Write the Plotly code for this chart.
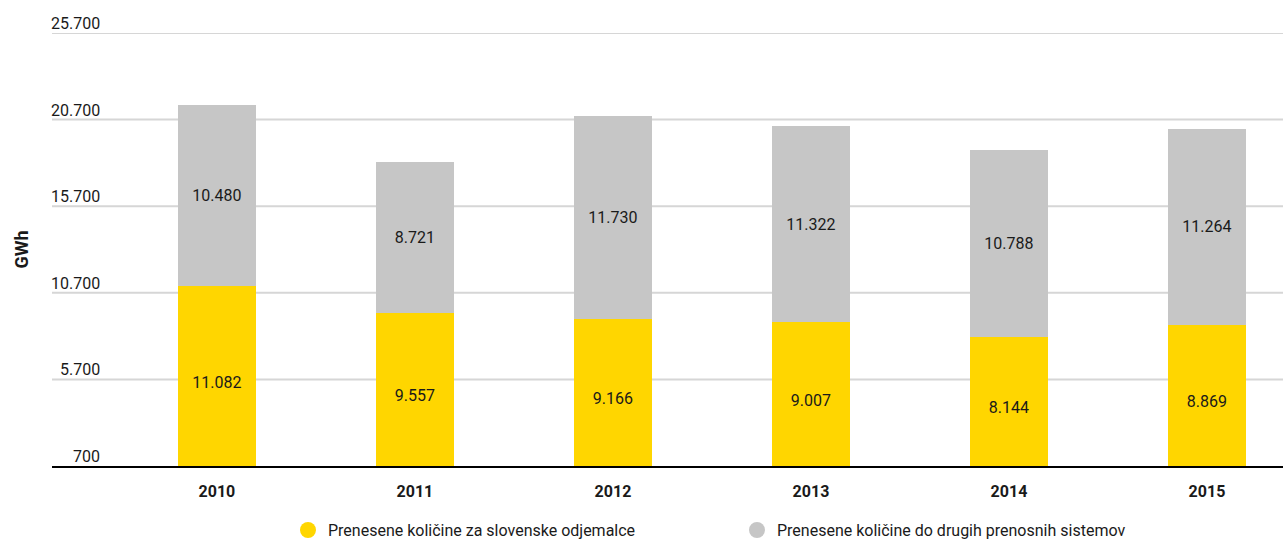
import plotly.graph_objects as go

# data
years = ["2010", "2011", "2012", "2013", "2014", "2015"]
slo_odjemalci = [11082, 9557, 9166, 9007, 8144, 8869]
drugi_sistemi = [10480, 8721, 11730, 11322, 10788, 11264]
y_ticks = [700, 5700, 10700, 15700, 20700, 25700]

names = ["Prenesene količine za slovenske odjemalce",
         "Prenesene količine do drugih prenosnih sistemov"]
colors = ["#FFD600", "#C6C6C6"]

FONT = "Roboto, Liberation Sans Narrow, sans-serif"

fig = go.Figure()

x_idx = list(range(len(years)))
for vals, name, col in zip([slo_odjemalci, drugi_sistemi], names, colors):
    fig.add_trace(go.Bar(
        x=x_idx, y=vals, name=name, marker_color=col, marker_line_width=0,
        width=0.394, showlegend=False,
        texttemplate="%{y:,}", textposition="inside", insidetextanchor="middle",
        textfont=dict(family=FONT, size=16, color="#1a1a1a"),
        hoverinfo="skip",
    ))
    # legend entry with round marker
    fig.add_trace(go.Scatter(
        x=[None], y=[None], mode="markers", name=name,
        marker=dict(symbol="circle", size=17, color=col),
    ))

# grid lines across the full width + tick labels sitting above them
for v in y_ticks:
    if v != y_ticks[0]:
        fig.add_shape(type="line", xref="paper", x0=0, x1=1, yref="y", y0=v, y1=v,
                      line=dict(color="#D6D6D6", width=2), layer="below")
    fig.add_annotation(
        x=0.0405, xref="paper", y=v, yref="y",
        text=f"{v:,}".replace(",", "."), showarrow=False,
        xanchor="right", yanchor="bottom", yshift=-2,
        font=dict(family=FONT, size=16, color="#1a1a1a"),
    )

fig.add_annotation(
    x=-0.0244, xref="paper", y=0.5, yref="paper", text="<b>GWh</b>",
    textangle=-90, showarrow=False, xanchor="center", yanchor="middle",
    font=dict(family=FONT, size=18, color="#1a1a1a"),
)

fig.update_layout(
    width=1283, height=541,
    margin=dict(l=52, r=0, t=33, b=75, autoexpand=False),
    paper_bgcolor="white", plot_bgcolor="white",
    barmode="stack", separators=",.",
    font=dict(family=FONT, color="#1a1a1a"),
    legend=dict(
        orientation="h", traceorder="normal",
        x=0.1917, xanchor="left", y=-0.148, yanchor="middle",
        entrywidth=404, entrywidthmode="pixels",
        font=dict(family=FONT, size=16, color="#1a1a1a"),
        itemclick=False, itemdoubleclick=False,
    ),
)

fig.update_xaxes(
    range=[-0.833, 5.384], tickmode="array", tickvals=x_idx,
    ticktext=[f"<b>{y}</b>" for y in years],
    tickfont=dict(family=FONT, size=16, color="#1a1a1a"),
    ticklabelstandoff=10,
    showgrid=False, showline=True, linecolor="black", linewidth=2,
    ticks="", zeroline=False,
)
fig.update_yaxes(
    range=[700, 25700], tickmode="array", tickvals=y_ticks,
    showticklabels=False, showgrid=False, zeroline=False,
)

fig.write_html("out.html", config={"displayModeBar": False},
               post_script="document.body.style.margin='0';")
